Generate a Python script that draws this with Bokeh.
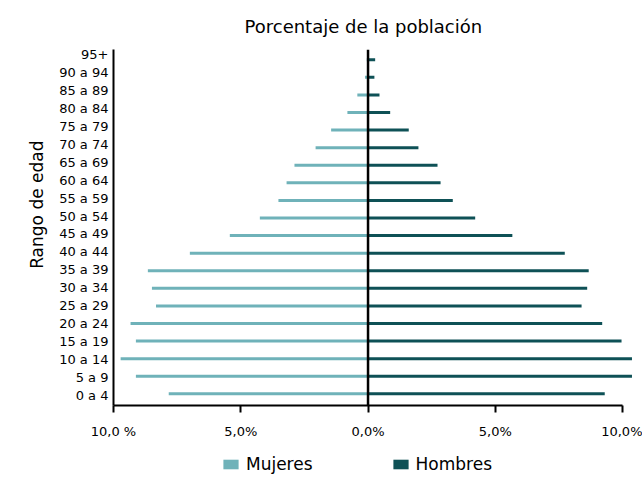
from bokeh.plotting import figure
from bokeh.layouts import column
from bokeh.models import (ColumnDataSource, FixedTicker, Span, Legend, LegendItem,
                          Range1d, CustomJSTickFormatter, Title)
from bokeh.embed import file_html
from bokeh.resources import INLINE

# ---------------- data ----------------
grupos = ["0 a 4", "5 a 9", "10 a 14", "15 a 19", "20 a 24", "25 a 29", "30 a 34",
          "35 a 39", "40 a 44", "45 a 49", "50 a 54", "55 a 59", "60 a 64", "65 a 69",
          "70 a 74", "75 a 79", "80 a 84", "85 a 89", "90 a 94", "95+"]
mujeres = [7.83, 9.12, 9.72, 9.12, 9.33, 8.33, 8.49, 8.65, 7.00, 5.43,
           4.25, 3.52, 3.20, 2.89, 2.06, 1.45, 0.81, 0.42, 0.12, 0.05]
hombres = [9.30, 10.37, 10.37, 9.96, 9.20, 8.39, 8.61, 8.67, 7.73, 5.67,
           4.21, 3.33, 2.85, 2.73, 1.98, 1.60, 0.87, 0.45, 0.25, 0.28]
x_ticks = [-10, -5, 0, 5, 10]
x_tick_labels = ["10,0 %", "5,0%", "0,0%", "5,0%", "10,0%"]
titulo = "Porcentaje de la población"
eje_y = "Rango de edad"
series = ["Mujeres", "Hombres"]
colores = ["#6fb2b9", "#0e5156"]

FONT = "DejaVu Sans"

pos = list(range(len(grupos)))
# label positions are spaced slightly wider than the bars (as in the original)
label_pos = [round(i * 1.021 - 0.097, 4) for i in pos]

src = ColumnDataSource(dict(y=pos, muj=[-v for v in mujeres], hom=hombres,
                            zero=[0] * len(pos)))

p = figure(frame_width=520, frame_height=356,
           x_range=Range1d(-10, 10.43), y_range=Range1d(-0.665, 19.585),
           output_backend="svg", toolbar_location=None,
           min_border_left=113, min_border_right=9, min_border_top=48,
           min_border_bottom=34)
p.outline_line_color = None
p.xgrid.visible = False
p.ygrid.visible = False
p.background_fill_color = "white"

r_m = p.hbar(y="y", left="muj", right="zero", height=0.17, source=src,
             fill_color=colores[0], line_color=None)
r_h = p.hbar(y="y", left="zero", right="hom", height=0.17, source=src,
             fill_color=colores[1], line_color=None)

p.add_layout(Span(location=0, dimension="height", line_color="black", line_width=2.5))

# title
p.add_layout(Title(text=titulo, text_font=FONT, text_font_size="18px",
                   text_font_style="normal", text_color="black",
                   align="left", offset=131, standoff=26), "above")

# y axis title (placed as in the original, above the vertical centre)
p.add_layout(Title(text=eje_y, text_font=FONT, text_font_size="17px",
                   text_font_style="normal", text_color="black",
                   align="right", offset=91, standoff=19), "left")

# x axis
xa = p.xaxis[0]
xa.ticker = FixedTicker(ticks=x_ticks)
xa.minor_tick_line_color = None
xa.major_label_overrides = {t: l for t, l in zip(x_ticks, x_tick_labels)}
xa.bounds = (-10, 10)
xa.axis_line_width = 2
xa.axis_line_color = "black"
xa.major_tick_line_width = 2
xa.major_tick_line_color = "black"
xa.major_tick_in = 0
xa.major_tick_out = 7
xa.major_label_standoff = 11
xa.major_label_text_font = FONT
xa.major_label_text_font_size = "13px"
xa.major_label_text_color = "black"

# y axis
ya = p.yaxis[0]
ya.ticker = FixedTicker(ticks=label_pos)
ya.formatter = CustomJSTickFormatter(args=dict(labels=grupos), code="return labels[index];")
ya.minor_tick_line_color = None
ya.major_tick_line_color = None
ya.major_tick_in = 0
ya.major_tick_out = 0
ya.major_label_standoff = 5
ya.major_label_text_font = FONT
ya.major_label_text_font_size = "13px"
ya.major_label_text_color = "black"
ya.axis_line_width = 2
ya.axis_line_color = "black"

# legend strip (a separate small figure below the chart; its frame aligns with the chart's)
lf = figure(width=642, height=40, output_backend="svg", toolbar_location=None,
            x_axis_type=None, y_axis_type=None, x_range=Range1d(0, 1), y_range=Range1d(0, 1),
            min_border_left=0, min_border_right=0, min_border_top=0, min_border_bottom=0)
lf.outline_line_color = None
lf.xgrid.visible = False
lf.ygrid.visible = False
leg_r = []
for c in colores:
    # legend-only renderer: a zero-size bar outside the visible range
    s = ColumnDataSource(dict(y=[-5], left=[0], right=[0]))
    leg_r.append(lf.hbar(y="y", left="left", right="right", height=0.5, source=s,
                         fill_color=c, line_color=None))
lg = Legend(items=[LegendItem(label=n, renderers=[r]) for n, r in zip(series, leg_r)],
            location=(108, 7), orientation="horizontal",
            padding=0, margin=0, spacing=78,
            glyph_width=19, glyph_height=12, label_standoff=6,
            label_text_font=FONT, label_text_font_size="17px",
            label_text_color="black",
            background_fill_alpha=0, border_line_color=None)
lf.add_layout(lg, "center")

layout = column(p, lf, spacing=0)
open("out.html", "w").write(file_html(layout, INLINE))
